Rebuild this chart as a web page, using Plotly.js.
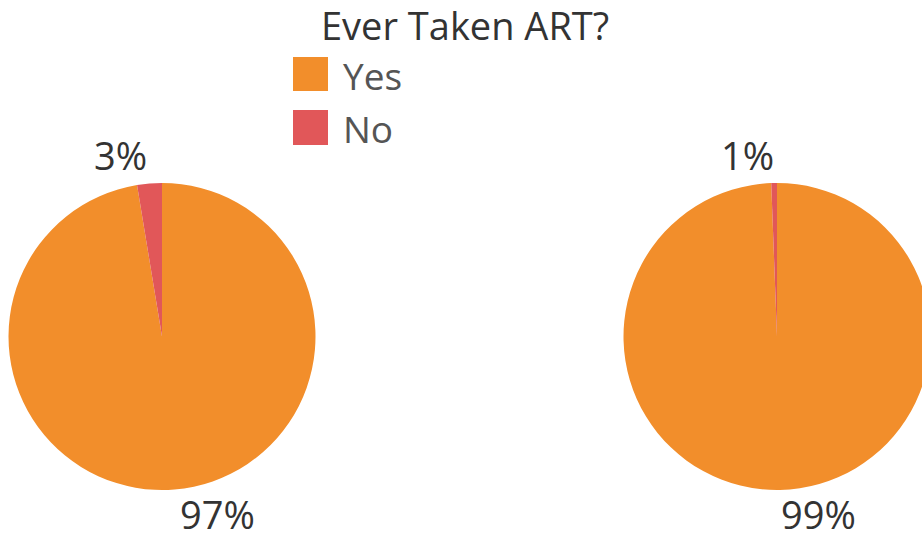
<!DOCTYPE html>
<html>
<head>
<meta charset="utf-8">
<script src="https://cdn.plot.ly/plotly-3.0.1.min.js"></script>
<style>
html,body{margin:0;padding:0;overflow:hidden;background:#fff;width:922px;height:542px;}
#chart{width:940px;height:542px;}
</style>
</head>
<body>
<div id="chart"></div>
<script>
// Data
var legendTitle = "Ever Taken ART?";
var categories = ["Yes", "No"];
var colors = ["#F28E2B", "#E15759"];
var groupA = [97.4, 2.6];
var groupB = [99.4, 0.6];

var W = 940, H = 542;
function px(x){ return x / W; }
function py(y){ return 1 - y / H; }
function pct(arr, i){
  var s = arr.reduce(function(a,b){return a+b;}, 0);
  return Math.round(arr[i] / s * 100) + "%";
}

var pieBase = {
  type: "pie",
  labels: categories,
  marker: {colors: colors, line: {width: 0}},
  sort: false,
  direction: "clockwise",
  rotation: 0,
  textinfo: "none",
  hoverinfo: "label+percent",
  showlegend: false
};

var traceA = Object.assign({}, pieBase, {
  values: groupA,
  domain: {x: [px(8), px(316)], y: [py(490), py(183)]}
});
var traceB = Object.assign({}, pieBase, {
  values: groupB,
  domain: {x: [px(623), px(931)], y: [py(490), py(183)]}
});

var FAM = "'Open Sans', 'Noto Sans', sans-serif";
var labelFont = {family: FAM, size: 38, color: "#333333"};
function ann(text, x, y, anchor, font, h){
  var a = {text: text, x: px(x), y: py(y), xref: "paper", yref: "paper", showarrow: false,
    xanchor: anchor, yanchor: "middle", font: font};
  if (h) a.height = h;
  return a;
}
var annotations = [
  ann(legendTitle, 465, 25, "center", {family: FAM, size: 38, color: "#333333"}),
  ann(categories[0], 341, 75, "left", {family: FAM, size: 37, color: "#555555"}),
  ann(categories[1], 341, 128, "left", {family: FAM, size: 37, color: "#555555"}),
  ann(pct(groupA, 1), 121, 155, "center", labelFont),
  ann(pct(groupA, 0), 217, 514, "center", labelFont),
  ann(pct(groupB, 1), 747, 155, "center", labelFont),
  ann(pct(groupB, 0), 818, 514, "center", labelFont)
];

var shapes = [
  {type: "rect", xref: "paper", yref: "paper", x0: px(293), x1: px(328), y0: py(91), y1: py(57),
   fillcolor: colors[0], line: {width: 0}},
  {type: "rect", xref: "paper", yref: "paper", x0: px(293), x1: px(328), y0: py(145), y1: py(110),
   fillcolor: colors[1], line: {width: 0}}
];

var layout = {
  width: W, height: H,
  margin: {l: 0, r: 0, t: 0, b: 0},
  paper_bgcolor: "#ffffff",
  plot_bgcolor: "#ffffff",
  showlegend: false,
  annotations: annotations,
  shapes: shapes,
  font: {family: FAM}
};

Plotly.newPlot("chart", [traceA, traceB], layout, {displayModeBar: false, staticPlot: true});
</script>
</body>
</html>
